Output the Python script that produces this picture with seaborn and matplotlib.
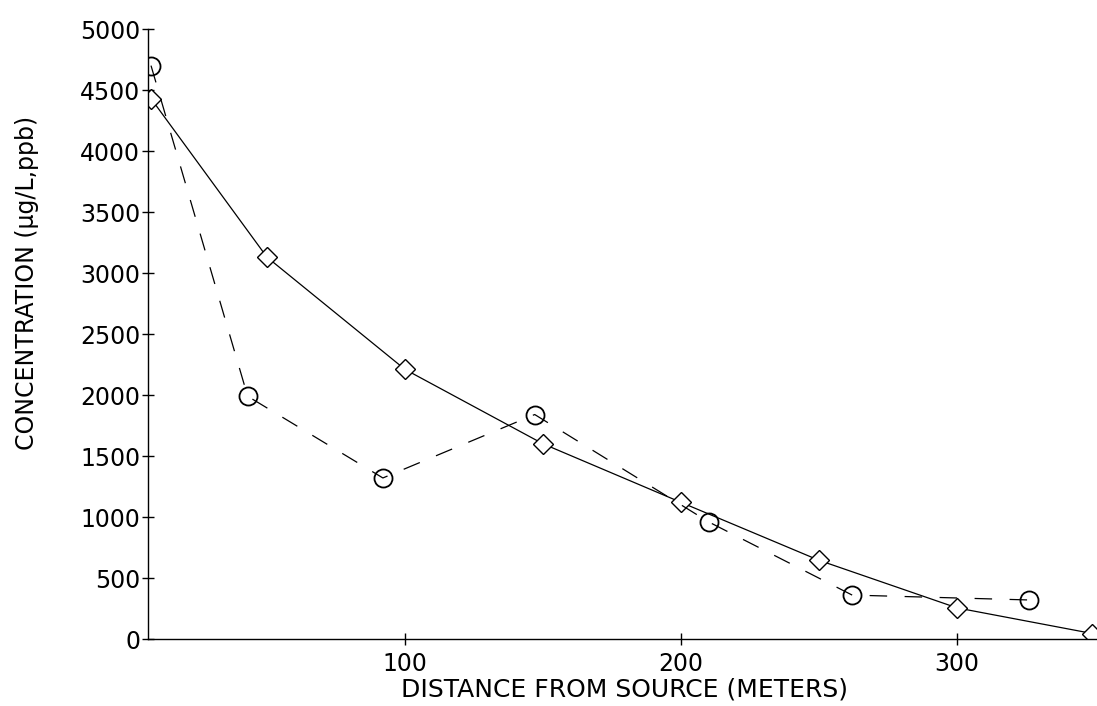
import numpy as np
import matplotlib
matplotlib.use("Agg")
import matplotlib.pyplot as plt
import pandas as pd
import seaborn as sns

# values (axis starts a bit right of 0)
diamond_x = [8, 50, 100, 150, 200, 250, 300, 349]
diamond_y = [4430, 3130, 2210, 1600, 1120, 645, 255, 45]
circle_x = [8, 43, 92, 147, 210, 262, 326]
circle_y = [4700, 1990, 1320, 1840, 960, 360, 320]

x_ticks = [100, 200, 300]
y_ticks = list(range(0, 5001, 500))

diamond_df = pd.DataFrame({'distance': diamond_x, 'conc': diamond_y})
circle_df = pd.DataFrame({'distance': circle_x, 'conc': circle_y})

sns.set_style("ticks", {'axes.edgecolor': 'black', 'xtick.color': 'black',
                        'ytick.color': 'black', 'text.color': 'black',
                        'axes.labelcolor': 'black'})
plt.rcParams['font.family'] = ['DejaVu Sans']

fig = plt.figure(figsize=(10.97, 7.06), dpi=100)
ax = fig.add_axes([0.1349, 0.0949, 0.8651, 0.864])

sns.lineplot(data=diamond_df, x='distance', y='conc', ax=ax, color='black',
             linewidth=0.9, marker='D', markersize=10, markerfacecolor='white',
             markeredgecolor='black', markeredgewidth=1.0)
sns.lineplot(data=circle_df, x='distance', y='conc', ax=ax, color='black',
             linewidth=0.9, marker='o', markersize=13, markerfacecolor='none',
             markeredgecolor='black', markeredgewidth=1.3)
ax.lines[-1].set_dashes([14, 14])

ax.set_xlim(6.9, 350.7)
ax.set_ylim(0, 5000)
ax.set_xticks(x_ticks)
ax.set_yticks(y_ticks)
ax.tick_params(direction='inout', length=9, width=1, labelsize=17)
ax.tick_params(axis='y', pad=1)
ax.tick_params(axis='x', pad=5)
sns.despine(ax=ax)
ax.spines['left'].set_linewidth(1)
ax.spines['bottom'].set_linewidth(1)

ax.set_xlabel('DISTANCE FROM SOURCE (METERS)', fontsize=18)
ax.set_ylabel('CONCENTRATION (µg/L,ppb)', fontsize=17)
ax.xaxis.set_label_coords(0.5026, -0.082)
ax.yaxis.set_label_coords(-0.1275, 0.584)
ax.xaxis.label.set_va('center')
ax.yaxis.label.set_va('center')

plt.savefig('out.png', dpi=100)
